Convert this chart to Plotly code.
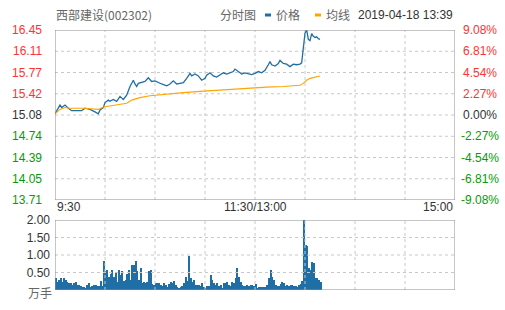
import plotly.graph_objects as go

# ---------------- data ----------------
pre_close = 15.08
price_range = [13.71, 16.45]
price_labels = ["13.71", "14.05", "14.39", "14.74", "15.08", "15.42", "15.77", "16.11", "16.45"]
pct_labels = ["-9.08%", "-6.81%", "-4.54%", "-2.27%", "0.00%", "2.27%", "4.54%", "6.81%", "9.08%"]
vol_range = [0, 2.0]
vol_ticks = [0.5, 1.0, 1.5, 2.0]
vol_labels = ["0.50", "1.00", "1.50", "2.00"]
time_range = [0, 240]

# minute index from 9:30 (afternoon continues after 11:30 at 13:00)
price_minutes = [0, 3, 4, 6, 8, 10, 13, 16, 18, 21, 24, 26, 27, 29, 30, 32, 33, 35, 37, 39,
                 41, 43, 45, 47, 48, 49, 50, 52, 54, 56, 58, 60, 62, 64, 67, 69, 71, 73, 75, 77,
                 79, 81, 82, 84, 86, 88, 90, 91, 93, 95, 97, 99, 101, 103, 105, 107, 108, 110, 112, 114,
                 116, 118, 120, 122, 124, 126, 128, 129, 130, 132, 134, 135, 137, 139, 141, 143, 145, 147, 148, 149,
                 150, 151, 152, 153, 154, 155, 156, 157, 158, 159]
prices = [15.10, 15.24, 15.20, 15.24, 15.19, 15.15, 15.15, 15.15, 15.19, 15.17, 15.13, 15.10, 15.16, 15.20, 15.28, 15.32, 15.30, 15.33, 15.30, 15.38,
          15.33, 15.40, 15.54, 15.64, 15.58, 15.54, 15.59, 15.60, 15.62, 15.68, 15.62, 15.63, 15.60, 15.58, 15.55, 15.58, 15.63, 15.58, 15.59, 15.60,
          15.67, 15.75, 15.71, 15.74, 15.71, 15.64, 15.67, 15.72, 15.76, 15.71, 15.69, 15.72, 15.76, 15.74, 15.76, 15.78, 15.82, 15.78, 15.74, 15.76,
          15.74, 15.73, 15.75, 15.78, 15.76, 15.80, 15.89, 15.94, 15.89, 15.87, 15.91, 15.96, 15.91, 15.90, 15.86, 15.90, 15.89, 15.90, 15.92, 16.15,
          16.40, 16.45, 16.30, 16.28, 16.39, 16.35, 16.33, 16.34, 16.31, 16.30]

avg_minutes = [0, 3, 6, 9, 17, 26, 29, 37, 43, 46, 51, 57, 67, 77, 87, 97, 107, 117, 127, 137, 146, 147, 149, 151, 153, 156, 159]
avg_prices = [15.10, 15.17, 15.20, 15.19, 15.19, 15.17, 15.21, 15.24, 15.27, 15.32, 15.36, 15.39, 15.42, 15.44, 15.46, 15.48, 15.50, 15.51, 15.53, 15.54,
              15.55, 15.56, 15.59, 15.64, 15.67, 15.69, 15.71]

# volume (万手), one value per minute from 9:30
volume = [0.35, 0.24, 0.29, 0.33, 0.24, 0.33, 0.29, 0.24, 0.19, 0.19,
          0.14, 0.19, 0.24, 0.14, 0.14, 0.12, 0.10, 0.10, 0.07, 0.14,
          0.19, 0.10, 0.12, 0.14, 0.14, 0.12, 0.12, 0.26, 0.12, 0.83,
          0.54, 0.57, 0.38, 0.45, 0.57, 0.38, 0.52, 0.24, 0.57, 0.43,
          0.54, 0.26, 0.29, 0.45, 0.57, 0.29, 0.71, 0.71, 0.83, 0.54,
          0.29, 0.62, 0.19, 0.24, 0.19, 0.24, 0.54, 0.57, 0.16, 0.14,
          0.19, 0.19, 0.19, 0.14, 0.12, 0.19, 0.14, 0.10, 0.16, 0.24,
          0.19, 0.26, 0.14, 0.10, 0.07, 0.10, 0.12, 0.19, 0.38, 0.26,
          0.98, 0.33, 0.24, 0.29, 0.14, 0.14, 0.14, 0.12, 0.19, 0.10,
          0.07, 0.12, 0.12, 0.43, 0.29, 0.19, 0.14, 0.19, 0.12, 0.14,
          0.07, 0.19, 0.19, 0.24, 0.14, 0.12, 0.24, 0.19, 0.33, 0.64,
          0.38, 0.24, 0.14, 0.12, 0.12, 0.14, 0.12, 0.14, 0.14, 0.12,
          0.16, 0.07, 0.10, 0.10, 0.10, 0.10, 0.10, 0.14, 0.33, 0.57,
          0.38, 0.29, 0.14, 0.12, 0.12, 0.16, 0.24, 0.19, 0.12, 0.14,
          0.12, 0.14, 0.14, 0.12, 0.11, 0.10, 0.14, 0.16, 0.26, 2.00,
          1.29, 1.27, 0.62, 0.57, 0.81, 0.78, 0.35, 0.33, 0.29, 0.24]

# ---------------- style ----------------
BLUE = "#1f6fa6"
ORANGE = "#ffa500"
RED = "#ff3333"
GREEN = "#079a07"
GRID = "#c8c8c8"
BORDER = "#8c8c8c"
FONT = "Liberation Sans, Arial, sans-serif"
CJK = "Noto Sans CJK SC, sans-serif"

W, H = 505, 310
ML, MR, MT, MB = 55, 50, 30, 20
PH = H - MT - MB  # 260


def py(pix_y):
    return (H - MB - pix_y) / PH


def px(pix_x):
    return (pix_x - ML) / (W - ML - MR)


def tick_color(i):
    return RED if i > 4 else (GREEN if i < 4 else "#333333")


lo, hi = price_range
price_tickvals = [lo + k * (hi - lo) / 8 for k in range(9)]
time_tickvals = [30 * k for k in range(9)]

fig = go.Figure()


def grid_trace(xs, ys, xa, ya, color, width, dash):
    fig.add_trace(go.Scatter(x=xs, y=ys, mode="lines", xaxis=xa, yaxis=ya,
                             line=dict(color=color, width=width, dash=dash),
                             hoverinfo="skip", showlegend=False, cliponaxis=False))


# dashed grid drawn first (under data), derived from the tick arrays
for panel_x, panel_y, yr, yt in (("x", "y", price_range, price_tickvals[1:-1]),
                                 ("x2", "y2", vol_range, vol_ticks[:-1])):
    gx, gy = [], []
    for t in time_tickvals[1:-1]:
        gx += [t, t, None]
        gy += [yr[0], yr[1], None]
    for v in yt:
        gx += [time_range[0], time_range[1], None]
        gy += [v, v, None]
    grid_trace(gx, gy, panel_x, panel_y, GRID, 1, "3px,3px")

fig.add_trace(go.Scatter(x=price_minutes, y=prices, mode="lines",
                         line=dict(color=BLUE, width=1.3), xaxis="x", yaxis="y",
                         hoverinfo="skip", showlegend=False))
fig.add_trace(go.Scatter(x=avg_minutes, y=avg_prices, mode="lines",
                         line=dict(color=ORANGE, width=1.1), xaxis="x", yaxis="y",
                         hoverinfo="skip", showlegend=False))
fig.add_trace(go.Bar(x=list(range(len(volume))), y=volume, width=1, offset=0,
                     marker=dict(color=BLUE, line=dict(width=0)),
                     xaxis="x2", yaxis="y2", hoverinfo="skip", showlegend=False))

# frames around both panels
for panel_x, panel_y, yr in (("x", "y", price_range), ("x2", "y2", vol_range)):
    x0, x1 = time_range
    grid_trace([x0, x1, x1, x0, x0], [yr[0], yr[0], yr[1], yr[1], yr[0]],
               panel_x, panel_y, BORDER, 1, "solid")

ax_common = dict(showgrid=False, showline=False, zeroline=False, ticks="")

fig.update_layout(
    width=W, height=H, margin=dict(l=ML, r=MR, t=MT, b=MB, autoexpand=False),
    paper_bgcolor="white", plot_bgcolor="white",
    font=dict(family=FONT, size=12, color="#333333"),
    xaxis=dict(domain=[0, 1], range=time_range, anchor="y", showticklabels=False, **ax_common),
    yaxis=dict(domain=[py(200), 1], range=price_range, anchor="x", showticklabels=False, **ax_common),
    xaxis2=dict(domain=[0, 1], range=time_range, anchor="y2", showticklabels=False, **ax_common),
    yaxis2=dict(domain=[0, py(220)], range=vol_range, anchor="x2",
                tickvals=vol_ticks, ticktext=vol_labels, ticklabelstandoff=4,
                tickfont=dict(size=12, color="#333333"), **ax_common),
    bargap=0,
)

ann = []
for i, v in enumerate(price_tickvals):
    ann.append(dict(text=price_labels[i], xref="paper", x=px(44), xanchor="right",
                    yref="y", y=v, yanchor="middle",
                    font=dict(family=FONT, size=12, color=tick_color(i))))
    ann.append(dict(text=pct_labels[i], xref="paper", x=px(480), xanchor="center",
                    yref="y", y=v, yanchor="middle",
                    font=dict(family=FONT, size=12, color=tick_color(i))))
ann.append(dict(text="9:30", x=0, xanchor="left", y=py(207), yanchor="middle"))
ann.append(dict(text="11:30/13:00", x=0.5, xanchor="center", y=py(207), yanchor="middle"))
ann.append(dict(text="15:00", x=1, xanchor="right", y=py(207), yanchor="middle"))
ann.append(dict(text="万手", x=px(26), xanchor="left", y=py(292), yanchor="middle",
                font=dict(family=CJK, size=12, color="#666666")))
ann.append(dict(text="西部建设(002302)", x=px(54), xanchor="left", y=py(15), yanchor="middle",
                font=dict(family=CJK, size=12, color="#666666")))
ann.append(dict(text="分时图", x=px(218), xanchor="left", y=py(15), yanchor="middle",
                font=dict(family=CJK, size=12, color="#666666")))
ann.append(dict(text="价格", x=px(274), xanchor="left", y=py(15), yanchor="middle",
                font=dict(family=CJK, size=12, color="#666666")))
ann.append(dict(text="均线", x=px(324), xanchor="left", y=py(15), yanchor="middle",
                font=dict(family=CJK, size=12, color="#666666")))
ann.append(dict(text="2019-04-18 13:39", x=1, xanchor="right", y=py(15), yanchor="middle",
                font=dict(family=FONT, size=12, color="#333333")))
for a in ann:
    a.setdefault("font", dict(family=FONT, size=12, color="#333333"))
    a.setdefault("xref", "paper")
    a.setdefault("yref", "paper")
    a["showarrow"] = False
fig.update_layout(annotations=ann)

fig.update_layout(shapes=[
    dict(type="line", xref="paper", yref="paper", x0=px(265), x1=px(271), y0=py(15), y1=py(15),
         line=dict(color=BLUE, width=3)),
    dict(type="line", xref="paper", yref="paper", x0=px(315), x1=px(321), y0=py(15), y1=py(15),
         line=dict(color=ORANGE, width=3)),
])

fig.write_html("out.html")
